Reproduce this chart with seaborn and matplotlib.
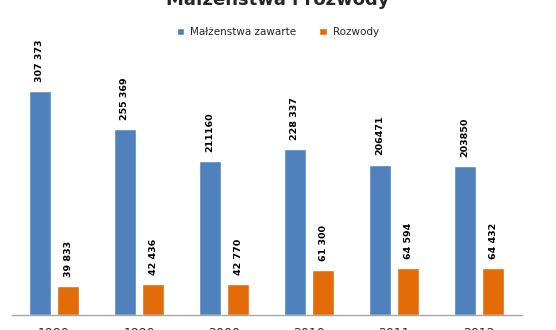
import matplotlib
matplotlib.use("Agg")
import matplotlib.pyplot as plt
import seaborn as sns
import pandas as pd

years = ["1980", "1990", "2000", "2010", "2011", "2012"]
marriages = [307373, 255369, 211160, 228337, 206471, 203850]
divorces = [39833, 42436, 42770, 61300, 64594, 64432]
marriage_labels = ["307 373", "255 369", "211160", "228 337", "206471", "203850"]
divorce_labels = ["39 833", "42 436", "42 770", "61 300", "64 594", "64 432"]
series_names = ["Małżenstwa zawarte", "Rozwody"]
title = "Małżeństwa i rozwody"

df = pd.DataFrame({
    "rok": years * 2,
    "wartość": marriages + divorces,
    "seria": [series_names[0]] * len(years) + [series_names[1]] * len(years),
})

sns.set_style("white")
plt.rcParams["font.family"] = ["DejaVu Sans"]

fig = plt.figure(figsize=(5.56, 3.30), dpi=100)
ax = fig.add_axes([0.0207, 0.0455, 0.9173, 0.773])

palette = {series_names[0]: "#4F81BD", series_names[1]: "#E36C09"}
sns.barplot(data=df, x="rok", y="wartość", hue="seria", palette=palette,
            width=0.66, gap=0.21, ax=ax, legend=True, saturation=1)

ax.set_ylim(0, 350000)
ax.set_xlim(-0.5, 5.5)
ax.set_xlabel("")
ax.set_ylabel("")
ax.set_yticks([])
for s in ["top", "left", "right"]:
    ax.spines[s].set_visible(False)
ax.spines["bottom"].set_color("#A6A6A6")
ax.spines["bottom"].set_linewidth(1.0)
ax.tick_params(axis="x", length=0, pad=8.5, labelsize=9)

labels_all = [marriage_labels, divorce_labels]
for cont, labs in zip(ax.containers, labels_all):
    for bar, lab in zip(cont, labs):
        x = bar.get_x() + bar.get_width() / 2
        y = bar.get_height()
        ax.annotate(lab, (x, y), xytext=(0, 6.5), textcoords="offset points",
                    rotation=90, ha="center", va="bottom", fontsize=6.8,
                    fontweight="bold", color="#000000", annotation_clip=False)

leg = ax.get_legend()
handles = leg.legend_handles
leg.remove()
fig.legend(handles, series_names, loc="center", bbox_to_anchor=(0.5, 0.903),
           ncol=2, frameon=False, fontsize=7.5, handlelength=0.7,
           handleheight=0.7, handletextpad=0.6, columnspacing=2.2)

fig.text(0.5, 1 - 5 / 330, title, ha="center", va="baseline",
         fontsize=13, fontweight="bold")

fig.savefig("out.png", dpi=100)
